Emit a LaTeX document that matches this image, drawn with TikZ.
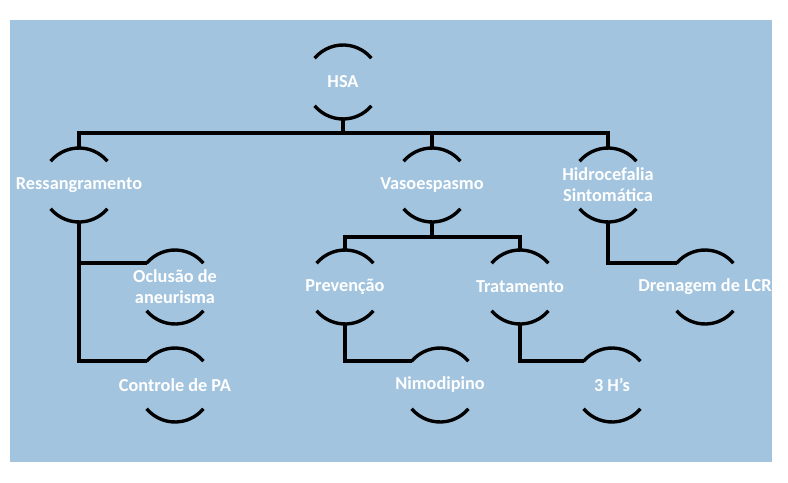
\documentclass[tikz,border=0pt]{standalone}
\usepackage{fontspec}
\setmainfont{Carlito}
\usetikzlibrary{positioning,calc}
\definecolor{bgblue}{HTML}{A2C4DF}
\tikzset{
  item/.style={font=\bfseries\fontsize{13}{15}\selectfont, text=white, align=center, inner sep=0pt},
  link/.style={line width=2.2pt, black},
  brk/.style={line width=2.4pt, black},
}
% arcs above and below a node
\newcommand{\brackets}[1]{%
  \draw[brk] (#1) ++(140:37) arc[start angle=140, end angle=40, radius=37];
  \draw[brk] (#1) ++(220:37) arc[start angle=220, end angle=320, radius=37];
}

\begin{document}
\begin{tikzpicture}[x=0.025cm,y=0.025cm]
  \useasboundingbox (0,0) rectangle (788,482);
  \fill[bgblue] (10,20) rectangle (772,462);

  \node[item] (hsa) at (343,400) {HSA};
  \node[item] (ressang) at (79,297) {Ressangramento};
  \node[item] (vaso) at (432,297) {Vasoespasmo};
  \node[item] (hidro) at (608,297) {Hidrocefalia\\Sintomática};
  \node[item] (oclusao) at (175,195) {Oclusão de\\aneurisma};
  \node[item] (prev) at (345,195) {Prevenção};
  \node[item] (trat) at (520,195) {Tratamento};
  \node[item] (dren) at (705,195) {Drenagem de LCR};
  \node[item] (controle) at (175,97) {Controle de PA};
  \node[item] (nimo) at (440,97) {Nimodipino};
  \node[item] (tresh) at (612,97) {3 H’s};

  \foreach \n in {hsa,ressang,vaso,hidro,oclusao,prev,trat,dren,controle,nimo,tresh}
    {\brackets{\n}}

  % tree links
  \coordinate (top) at (343,349);
  \coordinate (mid) at (432,245);
  \draw[link] ($(hsa)+(0,-37)$) -- (top);
  \draw[link] ($(ressang)+(0,37)$) |- (top) -| ($(hidro)+(0,37)$);
  \draw[link] (top) -| ($(vaso)+(0,37)$);
  \draw[link] ($(vaso)+(0,-37)$) -- (mid);
  \draw[link] ($(prev)+(0,37)$) |- (mid) -| ($(trat)+(0,37)$);
  \draw[link] ($(ressang)+(0,-37)$) |- ($(controle)+(-28,24)$);
  \draw[link] ($(oclusao)+(-96,24)$) -- ($(oclusao)+(-28,24)$);
  \draw[link] ($(prev)+(0,-37)$) |- ($(nimo)+(-28,24)$);
  \draw[link] ($(trat)+(0,-37)$) |- ($(tresh)+(-28,24)$);
  \draw[link] ($(hidro)+(0,-37)$) |- ($(dren)+(-28,24)$);
\end{tikzpicture}
\end{document}
